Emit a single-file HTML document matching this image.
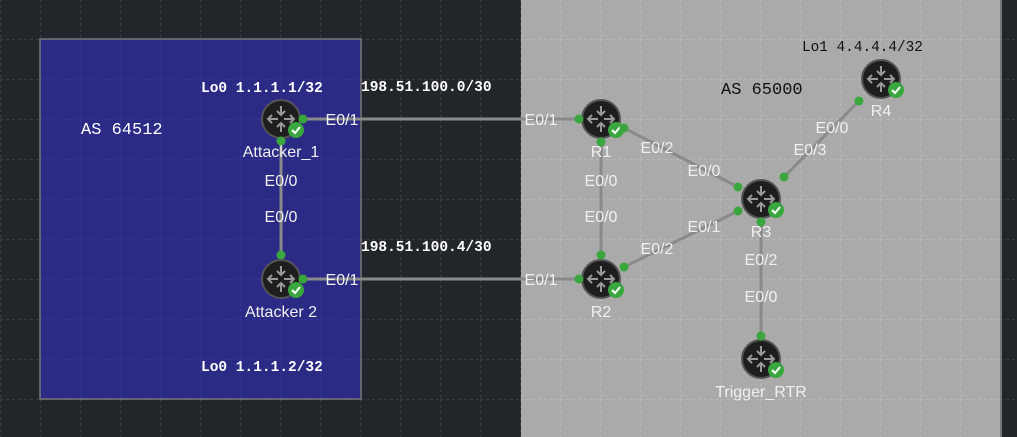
<!DOCTYPE html>
<html><head><meta charset="utf-8"><style>
html,body{margin:0;padding:0;background:#222529;}
svg{display:block;}
.m{font-family:"Liberation Mono",monospace;}
.s{font-family:"Liberation Sans",sans-serif;font-size:16px;fill:#f0f0f0;text-anchor:middle;}
</style></head><body>
<svg width="1017" height="437" viewBox="0 0 1017 437" xmlns="http://www.w3.org/2000/svg">
<defs>
<pattern id="g" width="40" height="40" patternUnits="userSpaceOnUse" x="0" y="-1">
<path d="M0.5 0V40M0 0.5H40" stroke="#383b40" stroke-width="1.5" stroke-dasharray="3 3" fill="none"/>
</pattern>
<pattern id="g2" width="40" height="40" patternUnits="userSpaceOnUse" x="0" y="-1">
<path d="M0.5 0V40M0 0.5H40" stroke="#b8b8b9" stroke-width="1" stroke-dasharray="3 3" fill="none"/>
</pattern>
<pattern id="g3" width="40" height="40" patternUnits="userSpaceOnUse" x="0" y="-1">
<path d="M0.5 0V40M0 0.5H40" stroke="#34349a" stroke-width="1" stroke-dasharray="3 3" fill="none"/>
</pattern>
<g id="r">
<circle r="19" fill="#1e1e1e" stroke="#555" stroke-width="2"/>
<g stroke="#9a9a9a" stroke-width="2" fill="none">
<path d="M0 -13V-4M-4 -8L0 -4L4 -8"/>
<path d="M0 13V4M-4 8L0 4L4 8"/>
<path d="M-3 0H-13M-9 -4L-13 0L-9 4"/>
<path d="M3 0H13M9 -4L13 0L9 4"/>
</g>
<circle cx="15" cy="11" r="8" fill="#3aa63e"/>
<path d="M11 11L14 14L19 8" stroke="#fff" stroke-width="2" fill="none"/>
</g>
</defs>
<rect width="1017" height="437" fill="#222529"/>
<rect width="1017" height="437" fill="url(#g)"/>
<rect x="521" y="0" width="480" height="437" fill="#aaaaab"/>
<rect x="521" y="0" width="480" height="437" fill="url(#g2)"/>
<line x1="1001" y1="0" x2="1001" y2="437" stroke="#777" stroke-width="2"/>
<rect x="40" y="39" width="321" height="360" fill="#2b2a85" stroke="#777" stroke-width="1.5"/>
<rect x="41" y="40" width="319" height="358" fill="url(#g3)"/>
<g stroke="#8a8a8a" stroke-width="3">
<line x1="303" y1="119" x2="579" y2="119"/>
<line x1="281" y1="141" x2="281" y2="255"/>
<line x1="303" y1="279" x2="579" y2="279"/>
<line x1="601" y1="142" x2="601" y2="255"/>
<line x1="624" y1="128" x2="738" y2="187"/>
<line x1="624" y1="267" x2="738" y2="211"/>
<line x1="784" y1="177" x2="859" y2="101"/>
<line x1="761" y1="222" x2="761" y2="336"/>
</g>
<use href="#r" x="281" y="119"/><use href="#r" x="281" y="279"/>
<use href="#r" x="601" y="119"/><use href="#r" x="601" y="279"/>
<use href="#r" x="761" y="199"/><use href="#r" x="881" y="79"/>
<use href="#r" x="761" y="359"/>
<g fill="#3aa63e">
<circle cx="303" cy="119" r="4.5"/><circle cx="579" cy="119" r="4.5"/>
<circle cx="281" cy="141" r="4.5"/><circle cx="281" cy="255" r="4.5"/>
<circle cx="303" cy="279" r="4.5"/><circle cx="579" cy="279" r="4.5"/>
<circle cx="601" cy="142" r="4.5"/><circle cx="601" cy="255" r="4.5"/>
<circle cx="624" cy="128" r="4.5"/><circle cx="738" cy="187" r="4.5"/>
<circle cx="624" cy="267" r="4.5"/><circle cx="738" cy="211" r="4.5"/>
<circle cx="784" cy="177" r="4.5"/><circle cx="859" cy="101" r="4.5"/>
<circle cx="761" cy="222" r="4.5"/><circle cx="761" cy="336" r="4.5"/>
</g>
<g class="s">
<text x="342" y="125">E0/1</text><text x="541" y="125">E0/1</text>
<text x="281" y="186">E0/0</text><text x="281" y="222">E0/0</text>
<text x="342" y="285">E0/1</text><text x="541" y="285">E0/1</text>
<text x="601" y="157">R1</text><text x="601" y="186">E0/0</text>
<text x="601" y="222">E0/0</text><text x="601" y="317">R2</text>
<text x="657" y="153">E0/2</text><text x="704" y="176">E0/0</text>
<text x="704" y="232">E0/1</text><text x="657" y="254">E0/2</text>
<text x="761" y="237">R3</text><text x="761" y="265">E0/2</text>
<text x="761" y="302">E0/0</text><text x="832" y="133">E0/0</text>
<text x="810" y="155">E0/3</text><text x="881" y="116">R4</text>
<text x="761" y="397">Trigger_RTR</text>
<text x="281" y="157">Attacker_1</text><text x="281" y="317">Attacker 2</text>
</g>
<g class="m" fill="#fff" font-weight="bold" font-size="14.5">
<text x="201" y="92">Lo0 1.1.1.1/32</text>
<text x="361" y="91">198.51.100.0/30</text>
<text x="361" y="251">198.51.100.4/30</text>
<text x="201" y="371">Lo0 1.1.1.2/32</text>
</g>
<text class="m" x="81" y="134" fill="#fff" font-size="17">AS 64512</text>
<text class="m" x="721" y="94" fill="#111" font-size="17">AS 65000</text>
<text class="m" x="802" y="51" fill="#111" font-size="14.4">Lo1 4.4.4.4/32</text>
</svg>
</body></html>
